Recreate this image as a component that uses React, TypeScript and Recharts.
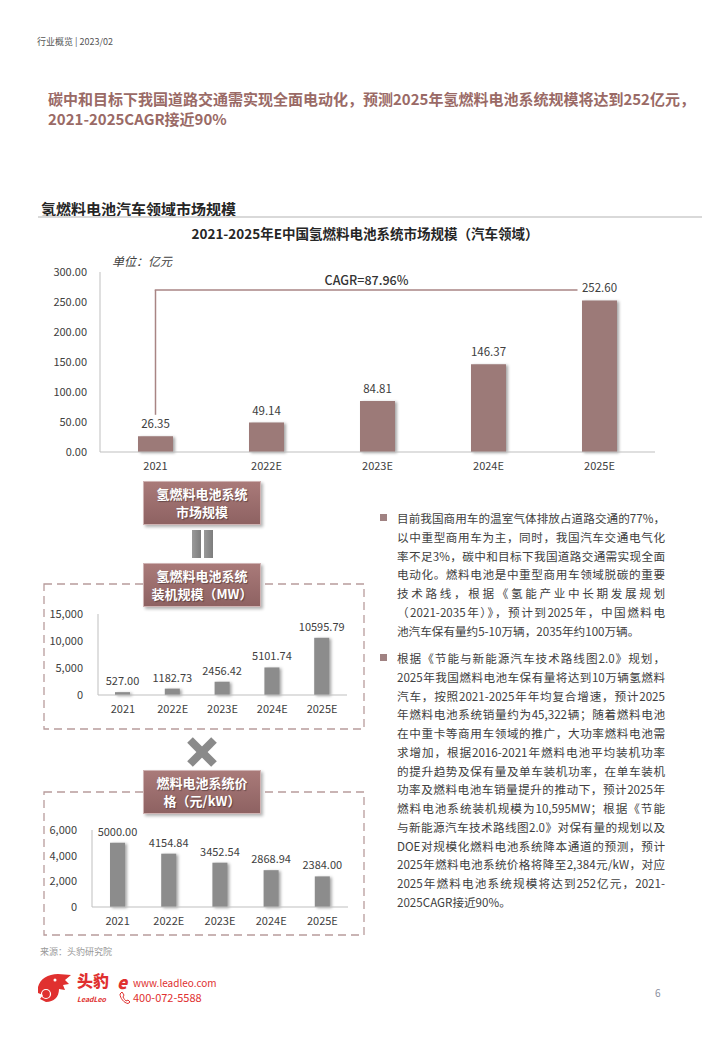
import React from "react";
import { Bar, BarChart, LabelList, ReferenceLine, XAxis, YAxis } from "recharts";

const years = ["2021", "2022E", "2023E", "2024E", "2025E"];
const marketSize = [26.35, 49.14, 84.81, 146.37, 252.6];
const installedMw = [527.0, 1182.73, 2456.42, 5101.74, 10595.79];
const pricePerKw = [5000.0, 4154.84, 3452.54, 2868.94, 2384.0];
const marketTicks = [0, 50, 100, 150, 200, 250, 300];
const mwTicks = [0, 5000, 10000, 15000];
const priceTicks = [0, 2000, 4000, 6000];

const para1 = [
  "目前我国商用车的温室气体排放占道路交通的77%，",
  "以中重型商用车为主，同时，我国汽车交通电气化",
  "率不足3%，碳中和目标下我国道路交通需实现全面",
  "电动化。燃料电池是中重型商用车领域脱碳的重要",
  "技术路线，根据《氢能产业中长期发展规划",
  "（2021-2035年）》，预计到2025年，中国燃料电",
  "池汽车保有量约5-10万辆，2035年约100万辆。",
];
const para2 = [
  "根据《节能与新能源汽车技术路线图2.0》规划，",
  "2025年我国燃料电池车保有量将达到10万辆氢燃料",
  "汽车，按照2021-2025年年均复合增速，预计2025",
  "年燃料电池系统销量约为45,322辆；随着燃料电池",
  "在中重卡等商用车领域的推广，大功率燃料电池需",
  "求增加，根据2016-2021年燃料电池平均装机功率",
  "的提升趋势及保有量及单车装机功率，在单车装机",
  "功率及燃料电池车销量提升的推动下，预计2025年",
  "燃料电池系统装机规模为10,595MW；根据《节能",
  "与新能源汽车技术路线图2.0》对保有量的规划以及",
  "DOE对规模化燃料电池系统降本通道的预测，预计",
  "2025年燃料电池系统价格将降至2,384元/kW，对应",
  "2025年燃料电池系统规模将达到252亿元，2021-",
  "2025CAGR接近90%。",
];

const FONT = '"Noto Sans CJK SC", "Noto Sans", sans-serif';
const MAUVE = "#9c7a78";
const GREY_BAR = "#8c8c8c";
const AXIS = "#bfbfbf";
const TXT = "#404040";

const mainData = years.map((y, i) => ({ year: y, value: marketSize[i] }));
const mwData = years.map((y, i) => ({ year: y, value: installedMw[i] }));
const priceData = years.map((y, i) => ({ year: y, value: pricePerKw[i] }));

const fmtThousands = (v: number) => v.toLocaleString("en-US");

function T({
  x,
  y,
  size,
  color = TXT,
  weight = 400,
  italic = false,
  children,
}: {
  x: number;
  y: number;
  size: number;
  color?: string;
  weight?: number;
  italic?: boolean;
  children: React.ReactNode;
}) {
  const h = Math.round(size * 1.5);
  return (
    <div
      style={{
        position: "absolute",
        left: x,
        top: y - h / 2,
        height: h,
        lineHeight: `${h}px`,
        fontSize: size,
        color,
        fontWeight: weight,
        fontStyle: italic ? "italic" : "normal",
        whiteSpace: "nowrap",
      }}
    >
      {children}
    </div>
  );
}

function LabelBox({ x, y, lines }: { x: number; y: number; lines: string[] }) {
  return (
    <div
      style={{
        position: "absolute",
        left: x,
        top: y,
        width: 118,
        height: 44,
        boxSizing: "border-box",
        border: "1px solid #cfb3b3",
        background: "linear-gradient(#a97a79, #8e6262)",
        boxShadow: "2px 2px 3px rgba(0,0,0,0.3)",
        color: "#fff",
        fontWeight: 700,
        fontSize: 13,
        lineHeight: "18px",
        textAlign: "center",
        paddingTop: 3,
        textShadow: "1px 1px 1px rgba(0,0,0,0.35)",
      }}
    >
      {lines.map((l) => (
        <div key={l}>{l}</div>
      ))}
    </div>
  );
}

function DashedBox({ x, y, w, h }: { x: number; y: number; w: number; h: number }) {
  return (
    <svg style={{ position: "absolute", left: x, top: y }} width={w + 2} height={h + 2}>
      <rect x={1} y={1} width={w} height={h} fill="none" stroke="#b89c9c" strokeWidth={1.3} strokeDasharray="8 5" />
    </svg>
  );
}

function Paragraph({ top, lines }: { top: number; lines: string[] }) {
  return (
    <>
      <div
        style={{ position: "absolute", left: 380, top: top - 4, width: 7, height: 7, background: "#a08282" }}
      />
      {lines.map((l, i) => (
        <div
          key={i}
          style={{
            position: "absolute",
            left: 397,
            top: top + i * 18.75 - 10,
            width: 268,
            height: 20,
            lineHeight: "20px",
            fontSize: 11.6,
            color: TXT,
            whiteSpace: "nowrap",
            textAlign: "justify",
            textAlignLast: i === lines.length - 1 ? "left" : "justify",
          }}
        >
          {l}
        </div>
      ))}
    </>
  );
}

function SmallChart({
  data,
  ticks,
  top,
  height,
  yWidth,
  marginRight,
}: {
  data: { year: string; value: number }[];
  ticks: number[];
  top: number;
  height: number;
  yWidth: number;
  marginRight: number;
}) {
  return (
    <div className="shadowbars" style={{ position: "absolute", left: 40, top, width: 320, height }}>
      <BarChart width={320} height={height} data={data} margin={{ top: 14, right: marginRight, left: 0, bottom: 0 }}>
        <XAxis
          dataKey="year"
          axisLine={{ stroke: AXIS }}
          tickLine={false}
          tickMargin={4}
          tick={{ fontSize: 11, fill: TXT }}
          height={30}
          interval={0}
        />
        <YAxis
          width={yWidth}
          domain={[ticks[0], ticks[ticks.length - 1]]}
          ticks={ticks}
          tickFormatter={fmtThousands}
          axisLine={{ stroke: AXIS }}
          tickLine={false}
          tickMargin={9}
          tick={{ fontSize: 11, fill: TXT }}
        />
        <Bar dataKey="value" fill={GREY_BAR} barSize={15} isAnimationActive={false}>
          <LabelList
            dataKey="value"
            position="top"
            offset={7}
            formatter={(v: number) => Number(v).toFixed(2)}
            style={{ fontSize: 11, fill: TXT }}
          />
        </Bar>
      </BarChart>
    </div>
  );
}

function Leopard() {
  return (
    <svg style={{ position: "absolute", left: 36, top: 972 }} width={36} height={32} viewBox="0 0 36 32">
      <path
        d="M2,15 C4,7 12,2 22,2 L35,3 L29,8 L33,12 L27,13 L29,18 L23,17 C23,25 18,30 10,30 L4,27 L7,23 L2,21 Z"
        fill="#e0302f"
      />
      <circle cx={10} cy={22} r={4.5} fill="none" stroke="#fff" strokeWidth={1.2} />
      <circle cx={19} cy={8} r={1.5} fill="#fff" />
    </svg>
  );
}

export default function App() {
  return (
    <div
      style={{
        position: "absolute",
        left: 0,
        top: 0,
        width: 720,
        height: 1040,
        background: "#fff",
        fontFamily: FONT,
        overflow: "hidden",
      }}
    >
      <style>{`.shadowbars .recharts-bar-rectangle path { filter: drop-shadow(2px 1px 1.5px rgba(0,0,0,0.35)); }`}</style>

      <T x={37} y={42} size={9} color="#555">
        行业概览 | 2023/02
      </T>

      <T x={48} y={98} size={15} weight={700} color="#9a6a66">
        碳中和目标下我国道路交通需实现全面电动化，预测2025年氢燃料电池系统规模将达到252亿元，
      </T>
      <T x={48} y={118} size={15} weight={700} color="#9a6a66">
        2021-2025CAGR接近90%
      </T>

      <T x={41} y={208} size={15} weight={700} color="#262626">
        氢燃料电池汽车领域市场规模
      </T>
      <div style={{ position: "absolute", left: 38, top: 216, width: 664, height: 2, background: "#d9d9d9" }} />

      <div
        style={{
          position: "absolute",
          left: 0,
          width: 730,
          top: 223,
          textAlign: "center",
          fontSize: 13.5,
          fontWeight: 700,
          color: "#262626",
          lineHeight: "20px",
        }}
      >
        2021-2025年E中国氢燃料电池系统市场规模（汽车领域）
      </div>
      <T x={112} y={261} size={12} italic>
        单位：亿元
      </T>

      <div className="shadowbars" style={{ position: "absolute", left: 40, top: 260, width: 640, height: 222 }}>
        <BarChart width={640} height={222} data={mainData} margin={{ top: 12, right: 25, left: 0, bottom: 0 }}>
          <XAxis
            dataKey="year"
            axisLine={{ stroke: AXIS }}
            tickLine={false}
            tickMargin={4}
            tick={{ fontSize: 11, fill: TXT }}
            height={30}
            interval={0}
          />
          <YAxis
            width={60}
            domain={[0, 300]}
            ticks={marketTicks}
            tickFormatter={(v: number) => v.toFixed(2)}
            axisLine={{ stroke: AXIS }}
            tickLine={false}
            tickMargin={7}
            tick={{ fontSize: 11, fill: TXT }}
          />
          <Bar dataKey="value" fill={MAUVE} barSize={35} isAnimationActive={false}>
            <LabelList
              dataKey="value"
              position="top"
              offset={8}
              formatter={(v: number) => Number(v).toFixed(2)}
              style={{ fontSize: 11.5, fill: TXT }}
            />
          </Bar>
          <ReferenceLine
            segment={[
              { x: "2021", y: 62 },
              { x: "2021", y: 270 },
            ]}
            stroke="#a88584"
            strokeWidth={1.5}
          />
          <ReferenceLine
            segment={[
              { x: "2021", y: 270 },
              { x: "2025E", y: 270 },
            ]}
            stroke="#a88584"
            strokeWidth={1.5}
            shape={(p: any) => {
              const x2 = p.x2 - 22;
              return (
                <g>
                  <line x1={p.x1 - 0.75} y1={p.y1} x2={x2} y2={p.y2} stroke="#a88584" strokeWidth={1.5} />
                  <text
                    x={(p.x1 + x2) / 2}
                    y={p.y1 - 5}
                    textAnchor="middle"
                    fontSize={12.5}
                    fontWeight={500}
                    fill="#333"
                  >
                    CAGR=87.96%
                  </text>
                </g>
              );
            }}
          />
        </BarChart>
      </div>

      <LabelBox x={143} y={481} lines={["氢燃料电池系统", "市场规模"]} />
      <div
        style={{
          position: "absolute",
          left: 192,
          top: 530,
          width: 9,
          height: 28,
          background: "linear-gradient(90deg,#9a9a9a,#7d7d7d)",
        }}
      />
      <div
        style={{
          position: "absolute",
          left: 204,
          top: 530,
          width: 9,
          height: 28,
          background: "linear-gradient(90deg,#9a9a9a,#7d7d7d)",
        }}
      />

      <DashedBox x={43} y={583} w={320} h={145} />
      <LabelBox x={143} y={563} lines={["氢燃料电池系统", "装机规模（MW）"]} />
      <SmallChart data={mwData} ticks={mwTicks} top={600} height={125} yWidth={58} marginRight={13} />

      <svg style={{ position: "absolute", left: 187, top: 737 }} width={30} height={30} viewBox="0 0 30 30">
        <g stroke="#8a8a8a" strokeWidth={8} strokeLinecap="butt">
          <line x1={3} y1={3} x2={27} y2={27} />
          <line x1={27} y1={3} x2={3} y2={27} />
        </g>
      </svg>

      <DashedBox x={43} y={791} w={320} h={143} />
      <LabelBox x={143} y={770} lines={["燃料电池系统价", "格（元/kW）"]} />
      <SmallChart data={priceData} ticks={priceTicks} top={816} height={121} yWidth={52} marginRight={12} />

      <Paragraph top={518} lines={para1} />
      <Paragraph top={658} lines={para2} />

      <T x={40} y={952} size={9} color="#999">
        来源：头豹研究院
      </T>

      <Leopard />
      <T x={77} y={980} size={16} weight={900} color="#e0302f">
        头豹
      </T>
      <T x={77} y={999} size={7} weight={700} italic color="#e0302f">
        LeadLeo
      </T>
      <T x={117} y={982} size={17} weight={900} italic color="#e0302f">
        e
      </T>
      <svg style={{ position: "absolute", left: 119, top: 991 }} width={12} height={13} viewBox="0 0 12 13">
        <path
          d="M3,1 L5,4 L4,6 C5,8 6,9 7,10 L9,9 L11,11 L9,12.5 C5,12 1,7 1,3 Z"
          fill="none"
          stroke="#e0302f"
          strokeWidth={1}
        />
      </svg>
      <T x={133} y={982} size={10} color="#e0302f">
        www.leadleo.com
      </T>
      <T x={133} y={997} size={11} color="#e0302f">
        400-072-5588
      </T>

      <T x={655} y={992} size={10} color="#8a8fa0">
        6
      </T>
    </div>
  );
}
